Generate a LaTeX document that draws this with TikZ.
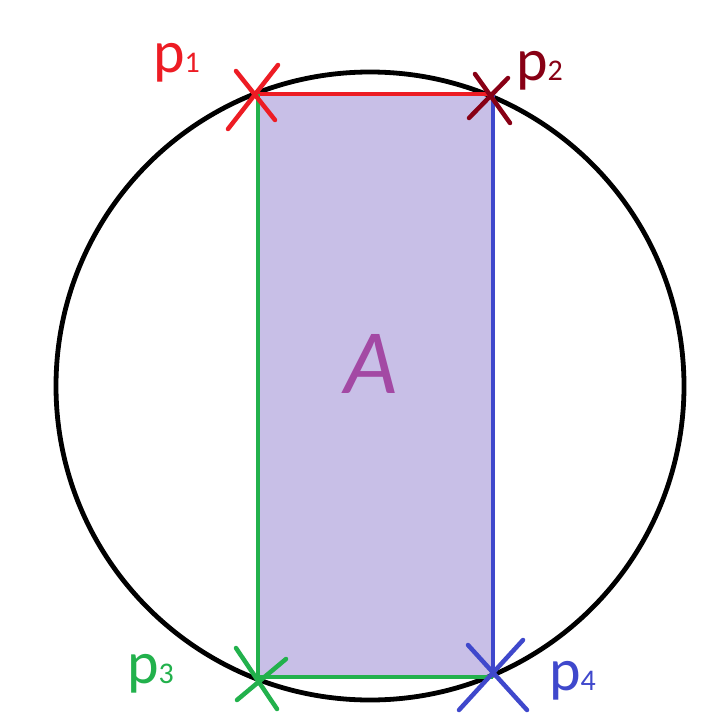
\documentclass[tikz,border=0pt]{standalone}
\usepackage{fontspec}
\setmainfont{Carlito}
\definecolor{pred}{HTML}{ED1C24}
\definecolor{pdark}{HTML}{880015}
\definecolor{pgreen}{HTML}{22B14C}
\definecolor{pblue}{HTML}{3F48CC}
\definecolor{plav}{HTML}{C8BFE7}
\definecolor{ppurp}{HTML}{A349A4}
\tikzset{
  edge/.style={line width=4.8pt},
  cross/.style={line width=4.5pt, line cap=round},
  plabel/.style={inner sep=0pt, anchor=base west, font=\fontsize{60}{64}\selectfont},
}
\newcommand{\sml}[1]{{\fontsize{30}{32}\selectfont #1}}
\begin{document}
\begin{tikzpicture}[x=1pt,y=-1pt]
\useasboundingbox (0,0) rectangle (720,720);
\fill[white] (0,0) rectangle (720,720);
\coordinate (c1) at (258,94);
\coordinate (c2) at (493,94);
\coordinate (c3) at (258,677);
\coordinate (c4) at (493,677);
\coordinate (ctr) at (370,386);
\fill[plav] (c1) rectangle (c4);
\draw[line width=4.8pt] (ctr) circle[radius=314];
\draw[edge, pred] (c1) -- (c2);
\draw[edge, pgreen] (c3) -- (c4);
\draw[edge, pgreen] (c1) -- (c3);
\draw[edge, pblue] (c2) -- (c4);
% crosses
\draw[cross, pred] (236,71) -- (275,120) (228,129) -- (278,65);
\draw[cross, pdark] (475,74) -- (510,123) (469,118) -- (508,78);
\draw[cross, pgreen] (236,648) -- (277,709) (237,700) -- (286,659);
\draw[cross, pblue] (468,645) -- (527,710) (459,710) -- (523,640);
% labels
\node[plabel, text=pred] (l1) at (153,72) {p\sml{1}};
\node[plabel, text=pdark] (l2) at (516,80) {p\sml{2}};
\node[plabel, text=pgreen] (l3) at (127,683) {p\sml{3}};
\node[plabel, text=pblue] (l4) at (549,690) {p\sml{4}};
\node[inner sep=0pt, anchor=base, text=ppurp, font=\fontsize{92}{96}\selectfont\itshape] (A) at (371,393) {A};
\end{tikzpicture}
\end{document}
